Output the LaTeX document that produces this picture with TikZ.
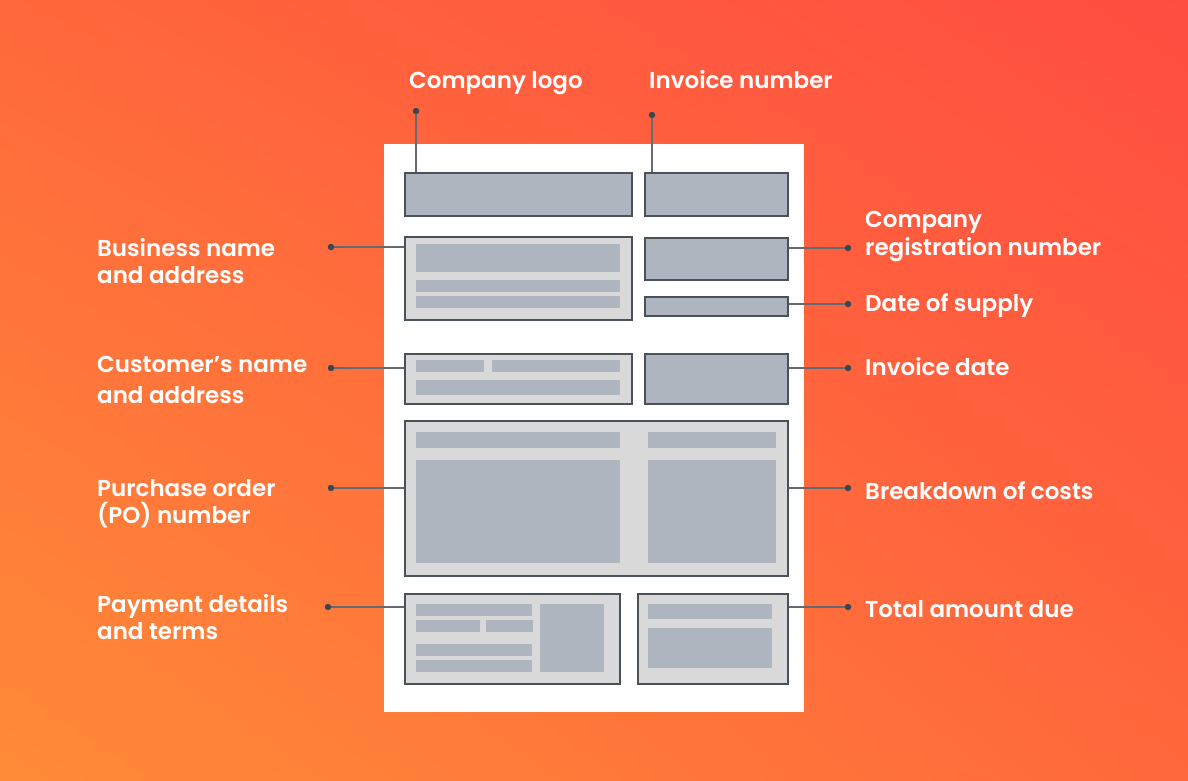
\documentclass[tikz,border=0pt]{standalone}
\usepackage{fontspec}
\setmainfont{Poppins SemiBold}
\usepackage{tikz}
\usetikzlibrary{shadings}
\definecolor{bgred}{HTML}{FF4D42}
\definecolor{bgmid}{HTML}{FF683B}
\definecolor{bgorange}{HTML}{FF8B38}
\definecolor{boxgray}{HTML}{AFB5BE}
\definecolor{panelgray}{HTML}{D9D9D9}
\definecolor{boxline}{HTML}{4B5159}
\definecolor{leadgray}{HTML}{666A70}
\definecolor{dotslate}{HTML}{3A4752}
\newcommand\labelfont{\fontsize{23}{27.5}\selectfont}

\begin{document}
\begin{tikzpicture}[x=1pt, y=-1pt,
  field/.style={draw=boxline, line width=2pt, fill=boxgray, anchor=north west, inner sep=0pt},
  panel/.style={field, fill=panelgray},
  lead/.style={draw=leadgray, line width=1.5pt},
  tip/.style={circle, fill=dotslate, inner sep=0pt, minimum size=6.5pt},
  tag/.style={text=white, font=\labelfont, align=left, anchor=base west, inner sep=0pt}]
  % background and sheet
  \shade[upper left=bgmid, upper right=bgred, lower left=bgorange, lower right=bgmid]
    (0,0) rectangle (1188,780);
  \fill[white] (384,144) rectangle (804,712);

  % Boxes on the sheet
  \node[field, minimum width=227pt, minimum height=43pt] (logo) at (404,172) {};
  \node[field, minimum width=143pt, minimum height=43pt] (invno) at (644,172) {};
  \node[panel, minimum width=227pt, minimum height=83pt] (biz) at (404,236) {};
  \node[field, minimum width=143pt, minimum height=42pt] (reg) at (644,237) {};
  \node[field, minimum width=143pt, minimum height=19pt] (supply) at (644,296) {};
  \node[panel, minimum width=227pt, minimum height=50pt] (cust) at (404,353) {};
  \node[field, minimum width=143pt, minimum height=50pt] (invdate) at (644,353) {};
  \node[panel, minimum width=383pt, minimum height=155pt] (costs) at (404,420) {};
  \node[panel, minimum width=215pt, minimum height=90pt] (pay) at (404,593) {};
  \node[panel, minimum width=150pt, minimum height=90pt] (total) at (637,593) {};

  % placeholder bars inside the panels
  \foreach \xa/\ya/\xb/\yb in {416/244/620/272, 416/280/620/292, 416/296/620/308,
      416/360/484/372, 492/360/620/372, 416/380/620/395,
      416/432/620/448, 648/432/776/448, 416/460/620/563, 648/460/776/563,
      416/604/532/616, 416/620/480/632, 486/620/533/632, 416/644/532/656,
      416/660/532/672, 540/604/604/672,
      648/604/772/619, 648/628/772/668}
    \fill[boxgray] (\xa,\ya) rectangle (\xb,\yb);

  % Dots at the label ends
  \node[tip] (dlogo) at (416,111) {};
  \node[tip] (dinv) at (652,115) {};
  \node[tip] (dbiz) at (331,247) {};
  \node[tip] (dcust) at (331,368) {};
  \node[tip] (dpo) at (331,488) {};
  \node[tip] (dpay) at (328,607) {};
  \node[tip] (dreg) at (848,248) {};
  \node[tip] (dsup) at (848,304) {};
  \node[tip] (ddate) at (848,368) {};
  \node[tip] (dcost) at (848,488) {};
  \node[tip] (dtot) at (848,607) {};

  % Leader lines
  \draw[lead] (dlogo) -- (dlogo |- logo.north);
  \draw[lead] (dinv) -- (dinv |- invno.north);
  \draw[lead] (dbiz) -- (dbiz -| biz.west);
  \draw[lead] (dcust) -- (dcust -| cust.west);
  \draw[lead] (dpo) -- (dpo -| costs.west);
  \draw[lead] (dpay) -- (dpay -| pay.west);
  \draw[lead] (dreg) -- (dreg -| reg.east);
  \draw[lead] (dsup) -- (dsup -| supply.east);
  \draw[lead] (ddate) -- (ddate -| invdate.east);
  \draw[lead] (dcost) -- (dcost -| costs.east);
  \draw[lead] (dtot) -- (dtot -| total.east);

  % Labels (base of two-line labels is the last line)
  \node[tag] (tlogo) at (409,88) {Company logo};
  \node[tag] (tinv) at (649,88) {Invoice number};
  \node[tag] (tbiz) at (97,283.5) {Business name\\and address};
  \node[tag] (tcust) at (97,403) {Customer’s name\\[3.5pt]and address};
  \node[tag] (tpo) at (97,523.5) {Purchase order\\(PO) number};
  \node[tag] (tpay) at (97,639.5) {Payment details\\and terms};
  \node[tag] (treg) at (865,255) {Company\\registration number};
  \node[tag] (tsup) at (865,311) {Date of supply};
  \node[tag] (tdate) at (865,375) {Invoice date};
  \node[tag] (tcost) at (865,499) {Breakdown of costs};
  \node[tag] (ttot) at (865,617) {Total amount due};
\end{tikzpicture}
\end{document}
